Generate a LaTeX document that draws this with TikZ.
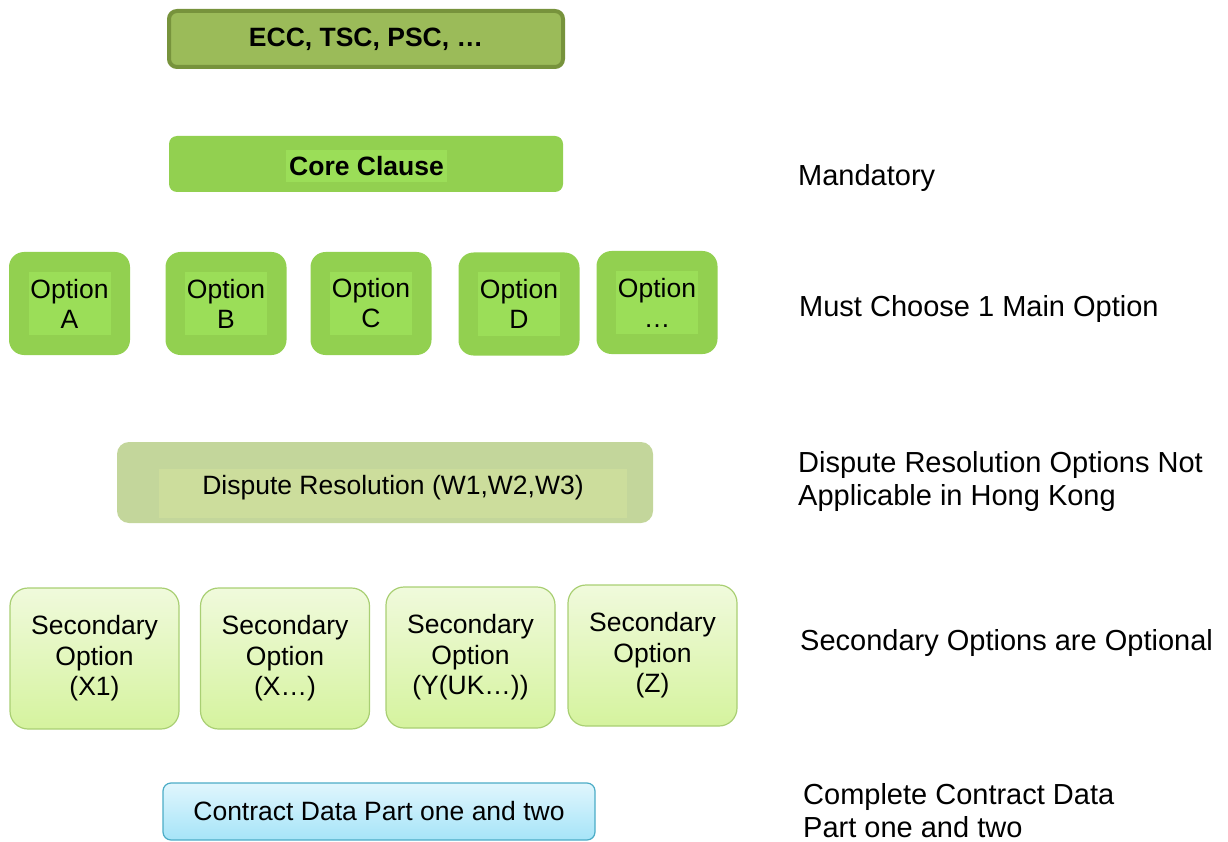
\documentclass[tikz,border=0pt]{standalone}
\usepackage{fontspec}
\setmainfont{Liberation Sans}
\definecolor{eccfill}{HTML}{9BBB59}
\definecolor{eccline}{HTML}{77933C}
\definecolor{mainfill}{HTML}{92D050}
\definecolor{mainlight}{HTML}{9BDE58}
\definecolor{wfill}{HTML}{C3D69B}
\definecolor{wlight}{HTML}{CCDD9C}
\definecolor{sectop}{HTML}{F0FADC}
\definecolor{secbot}{HTML}{D5F39E}
\definecolor{secline}{HTML}{A9CF73}
\definecolor{cdtop}{HTML}{E0F6FD}
\definecolor{cdbot}{HTML}{A6E4F8}
\definecolor{cdline}{HTML}{4BACC6}
\begin{document}
\begin{tikzpicture}[x=1pt, y=-1pt, every node/.style={inner sep=0pt, align=center,
					font=\fontsize{26.5}{30}\selectfont},
		eccbox/.style={draw=eccline, line width=4pt, fill=eccfill, rounded corners=8pt,
					minimum width=394pt, minimum height=56pt, font=\fontsize{26.5}{30}\selectfont\bfseries},
		corebox/.style={fill=mainfill, rounded corners=8pt, minimum width=394pt, minimum height=56pt},
		optbox/.style={fill=mainfill, rounded corners=15pt, minimum width=121pt, minimum height=103pt},
		lightbg/.style={fill=mainlight, minimum width=82pt, minimum height=63pt},
		wbox/.style={fill=wfill, rounded corners=12pt, minimum width=536pt, minimum height=81pt},
		secbox/.style={draw=secline, line width=1.2pt, top color=sectop, bottom color=secbot,
					rounded corners=18pt, minimum width=169pt, minimum height=141pt,
					font=\fontsize{26.5}{30.5}\selectfont},
		cdbox/.style={draw=cdline, line width=1.2pt, top color=cdtop, bottom color=cdbot,
					rounded corners=8pt, minimum width=432pt, minimum height=57pt},
		note/.style={anchor=west, align=left, font=\fontsize{29}{33}\selectfont}]
		\useasboundingbox (0,0) rectangle (1228,842);

		\node[eccbox] (ecc) at (366,39) {ECC, TSC, PSC, \dots};

		\node[corebox] (core) at (366,164) {};
		\node[fill=mainlight, minimum width=161pt, minimum height=32pt,
			font=\fontsize{26.5}{30}\selectfont\bfseries] (coretxt) at (366.5,166) {Core Clause};

		\node[optbox] (optA) at (69.5,303.5) {};
		\node[optbox] (optB) at (226,303.5) {};
		\node[optbox] (optC) at (371,303.5) {};
		\node[optbox] (optD) at (519,304) {};
		\node[optbox] (optE) at (657,302.5) {};
		\node[lightbg] (txtA) at (optA) {Option\\A};
		\node[lightbg] (txtB) at (optB) {Option\\B};
		\node[lightbg] (txtC) at (optC) {Option\\C};
		\node[lightbg] (txtD) at (optD) {Option\\D};
		\node[lightbg] (txtE) at (optE) {Option\\\dots};

		\node[wbox] (wopt) at (385,482.5) {};
		\node[fill=wlight, anchor=base, minimum width=468pt, text height=25pt, text depth=24pt]
			(wtxt) at (393,494) {Dispute Resolution (W1,W2,W3)};

		\node[secbox] (secX1) at (94.5,658.5) {Secondary\\Option\\(X1)};
		\node[secbox] (secX) at (285,658.5) {Secondary\\Option\\(X\dots)};
		\node[secbox] (secY) at (470.5,657.5) {Secondary\\Option\\(Y(UK\dots))};
		\node[secbox] (secZ) at (652.5,655.5) {Secondary\\Option\\(Z)};

		\node[cdbox] (cdata) at (379,811.5) {Contract Data Part one and two};

		\node[note] (mand) at (798,178) {Mandatory};
		\node[note] (must) at (799,309) {Must Choose 1 Main Option};
		\node[note] (disp) at (798,481) {Dispute Resolution Options Not\\Applicable in Hong Kong};
		\node[note] (seco) at (800,643) {Secondary Options are Optional};
		\node[note] (comp) at (803,811) {Complete Contract Data\\Part one and two};
	\end{tikzpicture}
\end{document}
